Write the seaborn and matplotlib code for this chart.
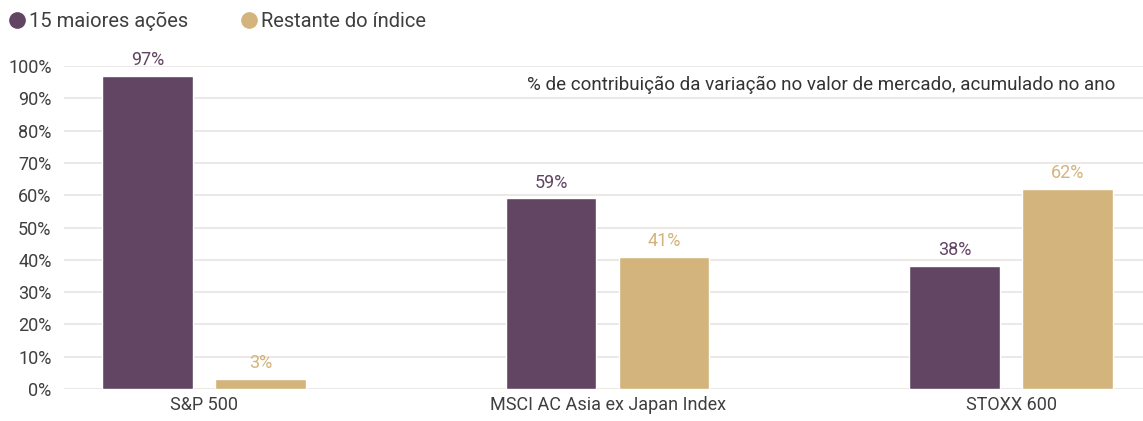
import numpy as np
import pandas as pd
import seaborn as sns
import matplotlib.pyplot as plt
from matplotlib.lines import Line2D

indices = ['S&P 500', 'MSCI AC Asia ex Japan Index', 'STOXX 600']
series_names = ['15 maiores ações', 'Restante do índice']
top15 = [97, 59, 38]
rest = [3, 41, 62]
y_ticks = [0, 10, 20, 30, 40, 50, 60, 70, 80, 90, 100]
note = '% de contribuição da variação no valor de mercado, acumulado no ano'

colors = ['#614563', '#D3B47C']
text_color = '#3f3f3f'

df = pd.DataFrame({
    'indice': indices * 2,
    'serie': [series_names[0]] * 3 + [series_names[1]] * 3,
    'valor': top15 + rest,
})

sns.set_style('white')
plt.rcParams['font.family'] = ['Roboto', 'DejaVu Sans']

fig = plt.figure(figsize=(11.43, 4.21), dpi=100)
ax = fig.add_axes([0.056, 0.076, 0.944, 0.767])

sns.barplot(data=df, x='indice', y='valor', hue='serie', palette=colors,
            width=0.56, gap=0.2, saturation=1, legend=False, ax=ax, zorder=3)

for container, col in zip(ax.containers, colors):
    labels = [f'{v:.0f}%' for v in container.datavalues]
    ax.bar_label(container, labels=labels, padding=5, color=col,
                 fontsize=13, clip_on=False)

ax.set_ylim(0, 100)
ax.set_xlim(-0.347, 2.327)
ax.set_yticks(y_ticks)
ax.set_yticklabels([f'{t}%' for t in y_ticks])
ax.grid(axis='y', color='#E8E4E0', linewidth=1.2, zorder=0)
ax.set_axisbelow(True)
for s in ax.spines.values():
    s.set_visible(False)
ax.tick_params(axis='both', length=0, labelsize=13, colors=text_color)
ax.tick_params(axis='y', pad=9)
ax.tick_params(axis='x', pad=5)
ax.set_xlabel('')
ax.set_ylabel('')

ax.text(0.974, 0.941, note, transform=ax.transAxes, ha='right', va='center',
        fontsize=13.5, color='#333333')

handles = [Line2D([0], [0], marker='o', linestyle='', markersize=11,
                  markerfacecolor=c, markeredgecolor=c) for c in colors]
fig.legend(handles, series_names, loc='upper left', bbox_to_anchor=(-0.006, 0.995),
           ncol=2, frameon=False, fontsize=14.5, handletextpad=-0.1,
           handlelength=1.4, columnspacing=2.3, labelcolor=text_color,
           borderaxespad=0.2, borderpad=0.3)

fig.savefig('out.png', dpi=100)
